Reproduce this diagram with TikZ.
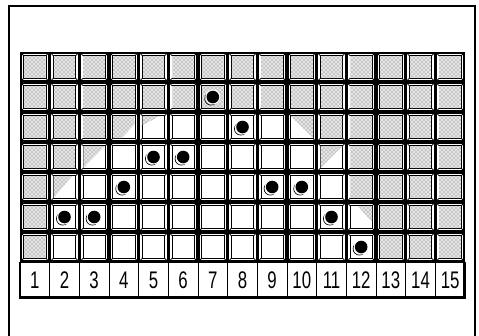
\documentclass[tikz,border=0pt]{standalone}
\usepackage{fontspec}
\newfontfamily\numfont{Liberation Sans}[FakeStretch=0.7]
\usetikzlibrary{patterns}

\begin{document}
\begin{tikzpicture}[x=0.75pt, y=-0.75pt,
  stipple/.style={preaction={fill=black!10}, pattern=crosshatch dots, pattern color=black!60},
  bevel/.style={line width=0.55pt},
  numlabel/.style={font=\numfont\fontsize{18}{18}\selectfont, inner sep=0pt}]
\useasboundingbox (0,0) rectangle (479,336);
% Frame
\draw[line width=1.5pt] (9,340) -- (9,6) -- (475,6) -- (475,340);
% Board
\fill[black] (20,52) rectangle (465,262.5);
\foreach \r in {1,...,7}{
  \foreach \c in {1,...,15}{
    \pgfmathsetmacro\xa{20+(\c-1)*29.667}
    \pgfmathsetmacro\ya{52+(\r-1)*30}
    \fill[white] (\xa+1.7,\ya+1.7) rectangle (\xa+27.97,\ya+28.3);
    \draw[bevel] (\xa+3.7,\ya+3.7) rectangle (\xa+25.97,\ya+26.3);
    \draw[bevel] (\xa+1.7,\ya+1.7) -- (\xa+3.7,\ya+3.7)
      (\xa+27.97,\ya+1.7) -- (\xa+25.97,\ya+3.7)
      (\xa+1.7,\ya+28.3) -- (\xa+3.7,\ya+26.3)
      (\xa+27.97,\ya+28.3) -- (\xa+25.97,\ya+26.3);
  }
}
% Stippled cells
\foreach \r/\cols in {1/{1,...,15}, 2/{1,...,15}, 3/{1,2,3,11,12,13,14,15},
    4/{1,2,12,13,14,15}, 5/{1,12,13,14,15}, 6/{1,13,14,15}, 7/{1,13,14,15}}{
  \foreach \c in \cols{
    \pgfmathsetmacro\xa{20+(\c-1)*29.667}
    \pgfmathsetmacro\ya{52+(\r-1)*30}
    \fill[stipple] (\xa+4,\ya+4) rectangle (\xa+25.7,\ya+26);
  }
}
% Partly stippled cells
\fill[stipple] (113,116) -- (134.7,116) -- (134.7,124) -- (122,138) -- (113,138) -- cycle;
\fill[stipple] (142.7,116) -- (160,116) -- (142.7,125) -- cycle;
\fill[stipple] (291,116) -- (313.2,116) -- (313.2,138) -- cycle;
\fill[stipple] (83.3,146) -- (105,146) -- (83.3,168) -- cycle;
\fill[stipple] (320.7,146) -- (342.7,146) -- (320.7,168) -- cycle;
\fill[stipple] (53.7,176) -- (72,176) -- (53.7,198) -- cycle;
\fill[stipple] (358,206) -- (372,206) -- (372,222) -- cycle;
% Stones
\foreach \r/\c in {2/7, 3/8, 4/5, 4/6, 5/4, 5/9, 5/10, 6/2, 6/3, 6/11, 7/12}{
  \pgfmathsetmacro\xm{20+(\c-0.5)*29.667}
  \pgfmathsetmacro\ym{52+(\r-0.5)*30}
  \draw[line width=0.5pt] (\xm-1.8,\ym+1.8) circle (6.3);
  \fill[white] (\xm,\ym) circle (7.4);
  \fill[black] (\xm,\ym) circle (6.3);
}
% Number row
\fill[white] (20,262.5) rectangle (464,297);
\foreach \c in {2,...,15}
  \draw[line width=0.7pt] ({20+(\c-1)*29.667},262.5) -- ({20+(\c-1)*29.667},297);
\draw[line width=1.3pt] (20.3,262) -- (20.3,298.5);
\draw[line width=2.2pt] (19.5,297.5) -- (465.5,297.5);
\draw[line width=2.2pt] (464.5,262) -- (464.5,298.5);
\foreach \c in {1,...,15}
  \node[numlabel] (n\c) at ({20+(\c-0.5)*29.667},280) {\c};
\end{tikzpicture}
\end{document}
